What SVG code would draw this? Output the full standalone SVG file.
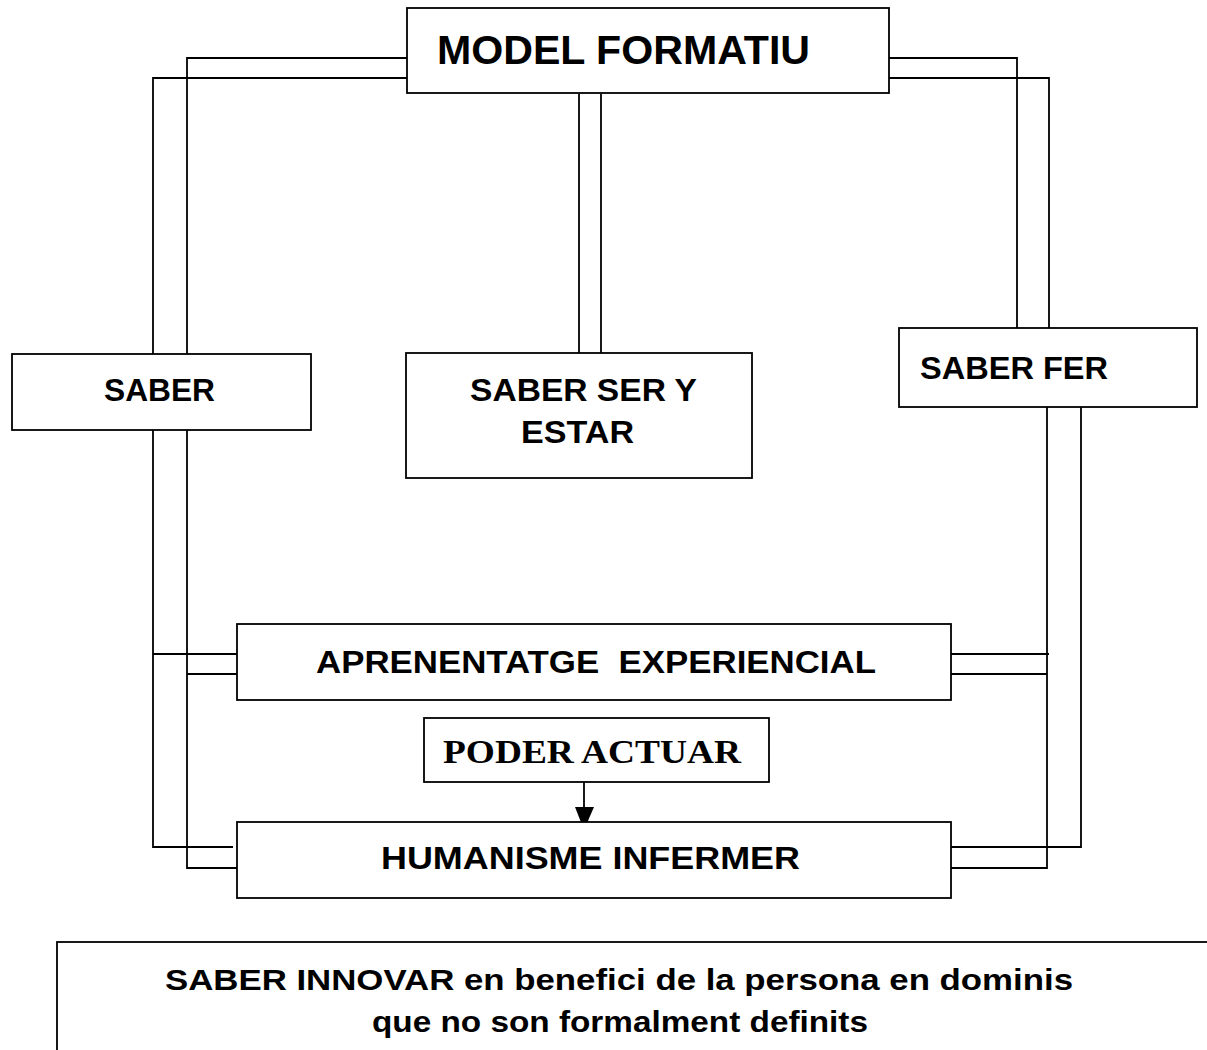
<svg xmlns="http://www.w3.org/2000/svg" width="1207" height="1050" viewBox="0 0 1207 1050">
<style>
.box{fill:#fff;stroke:#000;stroke-width:1.8}
.ln{fill:none;stroke:#000;stroke-width:1.8}
.t{font-family:"Liberation Sans",Arial,sans-serif;font-weight:bold;fill:#000}
.s{font-family:"Liberation Serif","Times New Roman",serif;font-weight:bold;fill:#000}
</style>
<rect width="1207" height="1050" fill="#fff"/>
<g id="connectors">
<path class="ln" d="M407,78 H153 V354"/>
<path class="ln" d="M407,58 H187 V354"/>
<path class="ln" d="M153,430 V847 H233"/>
<path class="ln" d="M187,426 V868 H237"/>
<path class="ln" d="M153,654 H237"/>
<path class="ln" d="M187,674 H237"/>
<path class="ln" d="M579,94 V353"/>
<path class="ln" d="M601,94 V353"/>
<path class="ln" d="M889,58 H1017 V328"/>
<path class="ln" d="M889,78 H1049 V328"/>
<path class="ln" d="M1047,404 V868 H947"/>
<path class="ln" d="M1081,407 V847 H951"/>
<path class="ln" d="M951,654 H1049"/>
<path class="ln" d="M947,674 H1047"/>
<path class="ln" d="M584,782 V810"/>
<polygon points="575,807 594,807 584,830" fill="#000"/>
</g>
<g id="model">
<rect class="box" x="407" y="8" width="482" height="85"/>
<text class="t" x="437" y="64" font-size="41" textLength="373" lengthAdjust="spacingAndGlyphs">MODEL FORMATIU</text>
</g>
<g id="saber">
<rect class="box" x="12" y="354" width="299" height="76"/>
<text class="t" x="104" y="401" font-size="32" textLength="111" lengthAdjust="spacingAndGlyphs">SABER</text>
</g>
<g id="saber-ser">
<rect class="box" x="406" y="353" width="346" height="125"/>
<text class="t" x="470" y="401" font-size="32" textLength="227" lengthAdjust="spacingAndGlyphs">SABER SER Y</text>
<text class="t" x="521" y="443" font-size="32" textLength="113" lengthAdjust="spacingAndGlyphs">ESTAR</text>
</g>
<g id="saber-fer">
<rect class="box" x="899" y="328" width="298" height="79"/>
<text class="t" x="920" y="379" font-size="32" textLength="188" lengthAdjust="spacingAndGlyphs">SABER FER</text>
</g>
<g id="aprenentatge">
<rect class="box" x="237" y="624" width="714" height="76"/>
<text class="t" x="316" y="673" font-size="31" textLength="560" lengthAdjust="spacingAndGlyphs" xml:space="preserve">APRENENTATGE  EXPERIENCIAL</text>
</g>
<g id="poder">
<rect class="box" x="424" y="718" width="345" height="64"/>
<text class="s" x="443" y="763" font-size="33" textLength="298" lengthAdjust="spacingAndGlyphs">PODER ACTUAR</text>
</g>
<g id="humanisme">
<rect class="box" x="237" y="822" width="714" height="76"/>
<text class="t" x="381" y="869" font-size="31" textLength="419" lengthAdjust="spacingAndGlyphs">HUMANISME INFERMER</text>
</g>
<g id="innovar">
<rect class="box" x="57" y="942" width="1170" height="130"/>
<text class="t" x="165" y="990" font-size="30" textLength="908" lengthAdjust="spacingAndGlyphs">SABER INNOVAR en benefici de la persona en dominis</text>
<text class="t" x="372" y="1032" font-size="30" textLength="496" lengthAdjust="spacingAndGlyphs">que no son formalment definits</text>
</g>
</svg>
